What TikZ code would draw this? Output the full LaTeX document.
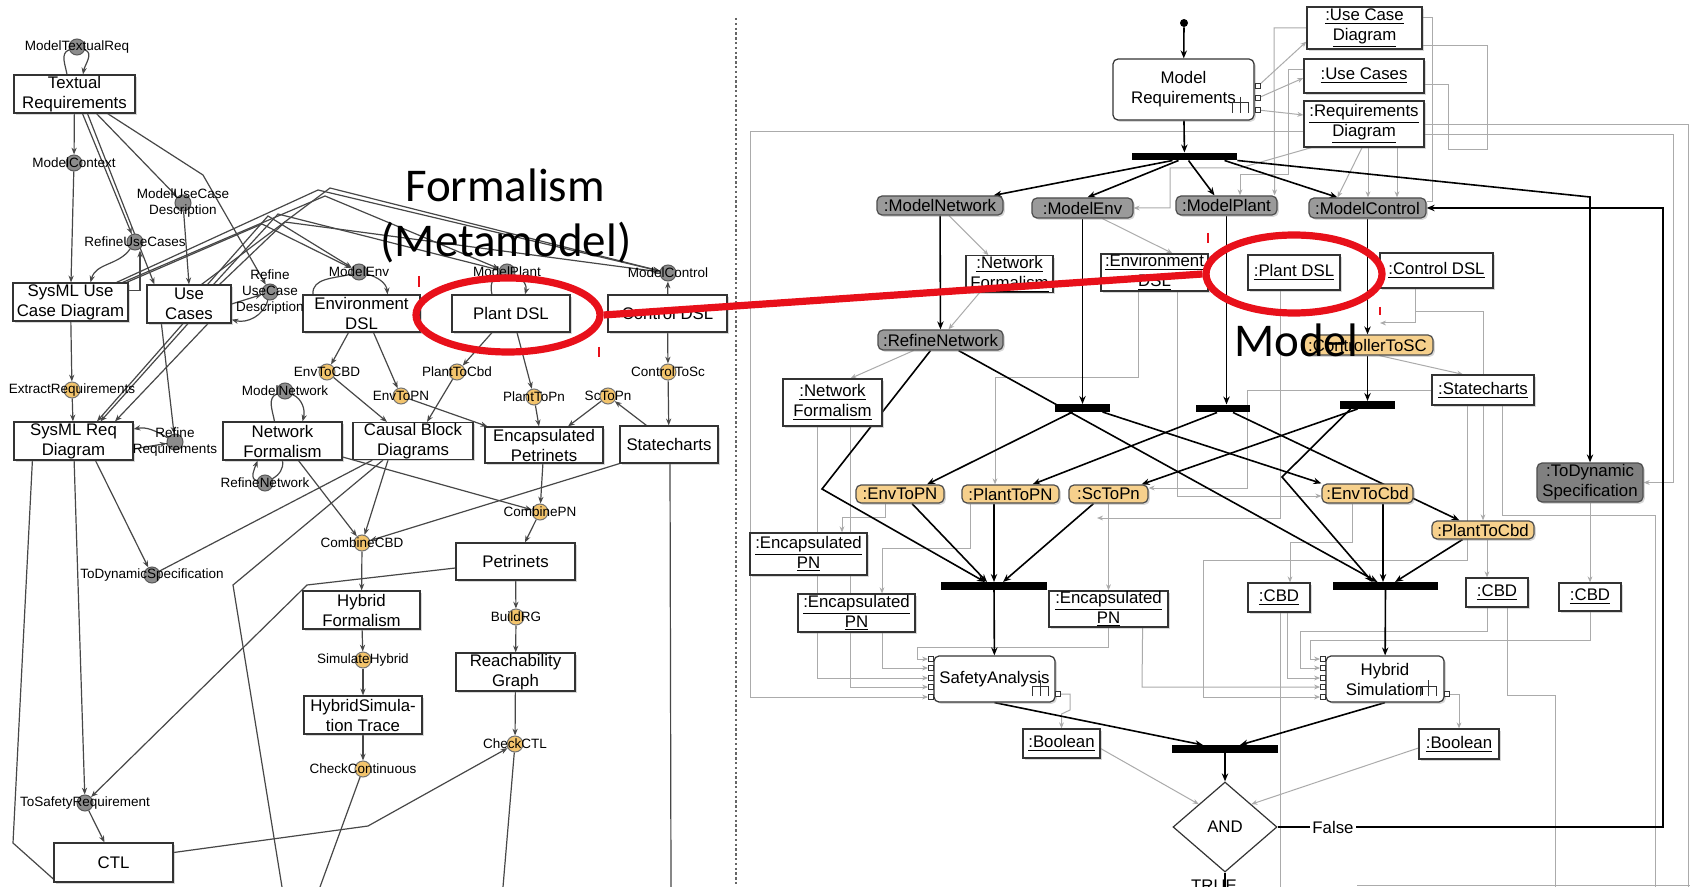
\documentclass[tikz,border=0pt]{standalone}
\usepackage{fontspec}
\setmainfont{Liberation Sans}
\newfontfamily\slidefont{Carlito}
\usetikzlibrary{arrows.meta,shapes.geometric,shadows,calc,backgrounds}
\definecolor{orng}{HTML}{F3C46C}
\definecolor{orngbox}{HTML}{F6D08C}
\definecolor{actgray}{HTML}{9A9A9A}
\definecolor{slidered}{HTML}{E8101A}
\definecolor{flow}{HTML}{ABABAB}
\newcommand{\ftgnode}[4]{\node[#1] (#2) at (#3) {};\node[lbl] (#2-t) at (#2) {#4};}
\begin{document}
\begin{tikzpicture}[x=0.5pt,y=-0.5pt,
  shd/.style={drop shadow={shadow xshift=0.9pt,shadow yshift=-0.9pt,opacity=0.3}},
  lbox/.style={rectangle,draw=black!80,line width=0.6pt,fill=white,align=center,inner sep=0pt,
    font=\fontsize{8.4}{10}\selectfont,shd},
  cg/.style={circle,draw=black!65,fill=black!45,line width=0.5pt,minimum size=8pt,inner sep=0pt},
  co/.style={circle,draw=black!55,fill=orng,line width=0.5pt,minimum size=8pt,inner sep=0pt},
  lbl/.style={inner sep=0pt,align=center,font=\fontsize{6.75}{8}\selectfont},
  ledge/.style={draw=black!72,line width=0.6pt},
  la/.style={ledge,-{Stealth[length=3.4pt,width=2.6pt]}},
  obj/.style={rectangle,draw=black!80,line width=0.6pt,fill=white,align=center,inner sep=0pt,
    font=\fontsize{8.4}{10}\selectfont,shd},
  abox/.style={obj,rounded corners=2.5pt},
  gact/.style={rectangle,rounded corners=2.5pt,draw=black!70,line width=0.6pt,fill=actgray,align=center,
    inner sep=0pt,font=\fontsize{8.4}{10}\selectfont,shd},
  oact/.style={gact,fill=orngbox},
  bar/.style={rectangle,fill=black,draw=none,minimum height=3.6pt,inner sep=0pt},
  port/.style={rectangle,draw=black!80,fill=white,line width=0.4pt,minimum size=2.5pt,inner sep=0pt},
  rk/.style={draw=black,line width=0.8pt,-{Stealth[length=4pt,width=3.2pt]}},
  rkn/.style={draw=black,line width=0.8pt},
  gf/.style={draw=flow,line width=0.5pt},
  gfa/.style={gf,-{Stealth[length=3pt,width=2.4pt]}},
  bigtxt/.style={inner sep=0pt,font=\slidefont\fontsize{23.5}{28}\selectfont},
  hilite/.style={ellipse,draw=slidered,line width=3.6pt,inner sep=0pt}
]
\useasboundingbox (0,0) rectangle (1690,887);

% ---------------- formalism transformation graph (left) ----------------
\node[lbox,minimum width=60.5pt,minimum height=19pt] (tr) at (74.5,94) {Textual\\Requirements};
\node[lbox,minimum width=57.5pt,minimum height=19pt] (sucd) at (70.5,302) {SysML Use\\Case Diagram};
\node[lbox,minimum width=42pt,minimum height=19pt] (uc) at (189,304) {Use\\Cases};
\node[lbox,minimum width=58.5pt,minimum height=18.5pt] (envdsl) at (361.5,313.5) {Environment\\DSL};
\node[lbox,minimum width=59pt,minimum height=18.5pt] (plantdsl) at (511,313.5) {Plant DSL};
\node[lbox,minimum width=59.5pt,minimum height=18.5pt] (ctrldsl) at (667.5,313.5) {Control DSL};
\node[lbox,minimum width=59.5pt,minimum height=19pt] (sreq) at (73.5,441) {SysML Req\\Diagram};
\node[lbox,minimum width=59.5pt,minimum height=19pt] (nf) at (282.5,441) {Network\\Formalism};
\node[lbox,minimum width=60pt,minimum height=18.5pt] (cbd) at (413,441) {Causal Block\\Diagrams};
\node[lbox,minimum width=59pt,minimum height=18pt] (epn) at (544,445) {Encapsulated\\Petrinets};
\node[lbox,minimum width=49pt,minimum height=18.5pt] (sc) at (669,444.5) {Statecharts};
\node[lbox,minimum width=59.5pt,minimum height=18.5pt] (pn) at (515.5,561.5) {Petrinets};
\node[lbox,minimum width=58.5pt,minimum height=19pt] (hf) at (361.5,610) {Hybrid\\Formalism};
\node[lbox,minimum width=59pt,minimum height=19pt] (hst) at (363,715) {HybridSimula-\\tion Trace};
\node[lbox,minimum width=59.5pt,minimum height=19pt] (rg) at (515.5,672) {Reachability\\Graph};
\node[lbox,minimum width=59.5pt,minimum height=19.5pt] (ctl) at (113.5,862.5) {CTL};

\ftgnode{cg}{mtr}{77,47}{ModelTextualReq}
\ftgnode{cg}{mctx}{74,163}{ModelContext}
\ftgnode{cg}{mucd}{183,203}{ModelUseCase\\Description}
\ftgnode{cg}{ruc}{135,242}{RefineUseCases}
\ftgnode{cg}{rucd}{270,292}{Refine\\UseCase\\Description}
\ftgnode{cg}{menv}{359,272}{ModelEnv}
\ftgnode{cg}{mplant}{507,272}{ModelPlant}
\ftgnode{cg}{mctrl}{668,273}{ModelControl}
\ftgnode{co}{extr}{72,390}{ExtractRequirements}
\ftgnode{cg}{rreq}{175,442}{Refine\\Requirements}
\ftgnode{cg}{mnet}{285,391}{ModelNetwork}
\ftgnode{cg}{rnet}{265,483}{RefineNetwork}
\ftgnode{co}{envcbd}{327,372}{EnvToCBD}
\ftgnode{co}{envpn}{401,396}{EnvToPN}
\ftgnode{co}{plcbd}{457,372}{PlantToCbd}
\ftgnode{co}{plpn}{534,397}{PlantToPn}
\ftgnode{co}{scpn}{608,396}{ScToPn}
\ftgnode{co}{ctsc}{668,372}{ControlToSc}
\ftgnode{co}{ccbd}{362,543}{CombineCBD}
\ftgnode{co}{cpn}{540,512}{CombinePN}
\ftgnode{cg}{tds}{152,575}{ToDynamicSpecification}
\ftgnode{co}{simh}{363,660}{SimulateHybrid}
\ftgnode{co}{brg}{516,617}{BuildRG}
\ftgnode{co}{chkc}{363,769}{CheckContinuous}
\ftgnode{co}{chkctl}{515,744}{CheckCTL}
\ftgnode{cg}{tsr}{85,803}{ToSafetyRequirement}

\coordinate (bendA) at (13,843);
\coordinate (bendB) at (307,585);
\coordinate (bendC) at (233,585);
\coordinate (bendE) at (368,826);
\coordinate (endC) at (282,887);
\coordinate (endD) at (320,887);
\coordinate (endF) at (503,887);
\coordinate (endG) at (671,887);

% ---------------- process model (right) ----------------
\node[circle,fill=black,inner sep=0pt,minimum size=4pt] (init) at (1184,23) {};
\node[abox,minimum width=70.5pt,minimum height=30.5pt] (mreq) at (1183.5,89.5) {Model\\Requirements};
\node[bar,minimum width=52.5pt] (fork1) at (1184.5,156.5) {};
\node[gact,minimum width=63pt,minimum height=9.5pt] (mnetR) at (940,205.5) {:ModelNetwork};
\node[gact,minimum width=50.5pt,minimum height=10pt] (menvR) at (1082.5,208) {:ModelEnv};
\node[gact,minimum width=50.5pt,minimum height=9.5pt] (mplantR) at (1226.5,205.5) {:ModelPlant};
\node[gact,minimum width=58.5pt,minimum height=10pt] (mctrlR) at (1367.5,208) {:ModelControl};
\node[obj,minimum width=57.5pt,minimum height=21pt] (ucdR) at (1364.5,28) {\underline{:Use Case}\\\underline{Diagram}};
\node[obj,minimum width=60pt,minimum height=17pt] (ucR) at (1364,76) {\underline{:Use Cases}};
\node[obj,minimum width=60pt,minimum height=23pt] (rdR) at (1364,124) {\underline{:Requirements}\\\underline{Diagram}};
\node[obj,minimum width=43.5pt,minimum height=18pt] (nfR) at (1009.5,274) {\underline{:Network}\\\underline{Formalism}};
\node[obj,minimum width=53.5pt,minimum height=18.5pt] (edR) at (1154.5,272.5) {\underline{:Environment}\\\underline{DSL}};
\node[obj,minimum width=46pt,minimum height=17.5pt] (pdR) at (1294,272.5) {\underline{:Plant DSL}};
\node[obj,minimum width=56.5pt,minimum height=17.5pt] (cdR) at (1436.5,270.5) {\underline{:Control DSL}};
\node[gact,minimum width=62.5pt,minimum height=10pt] (rnR) at (940.5,340) {:RefineNetwork};
\node[oact,minimum width=65.5pt,minimum height=10pt] (csc) at (1367.5,345) {:ControllerToSC};
\node[obj,minimum width=49.5pt,minimum height=23.5pt] (nf2R) at (832.5,402.5) {\underline{:Network}\\\underline{Formalism}};
\node[obj,minimum width=51pt,minimum height=15pt] (scR) at (1483,390) {\underline{:Statecharts}};
\node[bar,minimum width=27.5pt] (bar2) at (1082.5,408) {};
\node[bar,minimum width=27pt] (bar3) at (1223,408.5) {};
\node[bar,minimum width=27.5pt] (bar4) at (1367.5,405) {};
\node[gact,fill=black!50,minimum width=53pt,minimum height=19.5pt] (tdR) at (1590,482.5) {:ToDynamic\\Specification};
\node[oact,minimum width=44pt,minimum height=9pt] (e2pn) at (900,494) {:EnvToPN};
\node[oact,minimum width=48.5pt,minimum height=9pt] (p2pn) at (1010.5,494) {:PlantToPN};
\node[oact,minimum width=39.5pt,minimum height=9pt] (s2pn) at (1108.5,494) {:ScToPn};
\node[oact,minimum width=45.5pt,minimum height=9.5pt] (e2cbd) at (1367.5,493.5) {:EnvToCbd};
\node[oact,minimum width=51pt,minimum height=9pt] (p2cbd) at (1483,530) {:PlantToCbd};
\node[obj,minimum width=58.5pt,minimum height=21pt] (ep1) at (808.5,554) {\underline{:Encapsulated}\\\underline{PN}};
\node[obj,minimum width=58.5pt,minimum height=19pt] (ep2) at (856.5,613) {\underline{:Encapsulated}\\\underline{PN}};
\node[obj,minimum width=59.5pt,minimum height=18pt] (ep3) at (1108.5,609) {\underline{:Encapsulated}\\\underline{PN}};
\node[bar,minimum width=53pt] (bar5) at (994,586) {};
\node[bar,minimum width=52.5pt] (bar7) at (1385.5,586) {};
\node[obj,minimum width=31pt,minimum height=14.5pt] (cbd1) at (1279,597.5) {\underline{:CBD}};
\node[obj,minimum width=31pt,minimum height=14.5pt] (cbd2) at (1497,592.5) {\underline{:CBD}};
\node[obj,minimum width=31pt,minimum height=14pt] (cbd3) at (1590,597) {\underline{:CBD}};
\node[abox,minimum width=60.5pt,minimum height=23pt] (sa) at (994.5,679) {SafetyAnalysis};
\node[abox,minimum width=59pt,minimum height=23pt] (hs) at (1385,679) {Hybrid\\Simulation};
\node[obj,minimum width=38.5pt,minimum height=14.5pt] (bool1) at (1061.5,743.5) {\underline{:Boolean}};
\node[obj,minimum width=40pt,minimum height=15pt] (bool2) at (1459,744) {\underline{:Boolean}};
\node[bar,minimum width=53pt] (bar8) at (1225,749) {};
\node[diamond,draw=black!80,fill=white,line width=0.6pt,inner sep=0pt,minimum width=52pt,minimum height=45pt,
  font=\fontsize{8.4}{10}\selectfont] (and) at (1225,827) {AND};
\node[inner sep=1pt,fill=white,font=\fontsize{8.4}{10}\selectfont] (false) at (1333,827) {False};
\node[anchor=north,inner sep=0pt,font=\fontsize{8.4}{10}\selectfont] (truel) at (1214,880) {TRUE};

% pins
\node[port] (mP1) at (1258,86) {};
\node[port] (mP2) at (1258,98) {};
\node[port] (mP3) at (1258,110) {};
\foreach \i/\yy in {1/659,2/668,3/678,4/687,5/697}{
  \node[port] (saP\i) at (931,\yy) {};
  \node[port] (hsP\i) at (1323,\yy) {};
}
\node[port] (saO) at (1058,694) {};
\node[port] (hsO) at (1447,694) {};

% call-behaviour rakes
\foreach \rx/\ry in {1240/103, 1040/686, 1428/686}{
  \draw[black!80,line width=0.5pt] (\rx-8,\ry+10) -- (\rx-8,\ry) -- (\rx+8,\ry) -- (\rx+8,\ry+10)
    (\rx,\ry-6) -- (\rx,\ry+10);
}

\begin{pgfonlayer}{background}
\fill[white] (0,0) rectangle (1690,887);
% separator
\draw[black!60,line width=0.6pt,dash pattern=on 1.2pt off 1.2pt] (736,18) -- (736,887);

% ----- left: edges -----
\draw[ledge] (mtr) to[out=200,in=100] ($(tr.north)+(-7.5,0)$);
\draw[la] (mtr) to[out=-20,in=80] ($(tr.north)+(8.5,0)$);
\draw[la] (tr) -- (mctx);
\draw[la] (mctx) -- (sucd);
\draw[la] ($(tr.south)+(8,0)$) -- (ruc);
\draw[la] ($(tr.south)+(13,0)$) -- ($(uc.north west)+(8,0)$);
\draw[la] ($(tr.south)+(22,0)$) -- (mucd);
\draw[la] ($(tr.south east)+(-28,0)$) -- (203,175) -- (rucd);
\draw[la] (mucd) -- (uc.north);
\draw[la] (ruc) to[out=235,in=75] ($(sucd.north)+(20,0)$);
\draw[la] ($(sucd.north east)+(0,8)$) -| ($(ruc.south)+(5,0)$);
\draw[la] (uc.east) -- (rucd);
\draw[la] (rucd) to[out=255,in=-15] ($(uc.south east)+(0,-4)$);
% bundle towards the DSL modelling activities
\draw[la] ($(sucd.north east)+(-12,0)$) -- (318,190) -- (mctrl);
\draw[la] ($(sucd.north east)+(-6,0)$) -- (325,196) -- (mplant);
\draw[la] ($(sucd.north east)+(-2,0)$) -- (262,224) -- (menv);
\draw[la] ($(uc.north east)+(-30,0)$) -- (330,188) -- (mctrl);
\draw[la] ($(uc.north east)+(-24,0)$) -- (268,216) -- (menv);
\draw[la] ($(uc.north east)+(-18,0)$) -- (278,214) -- (mplant);
\draw[la] ($(uc.north east)+(-12,0)$) -- (285,222) -- (mctrl);

\draw[la] (sucd) -- (extr);
\draw[la] (extr) -- (sreq);
\draw[la] ($(uc.south west)+(15,0)$) -- (rreq);
\draw[la] ($(uc.south)+(-6,0)$) -- ($(sreq.north)+(23.5,0)$);
\draw[la] ($(uc.south)+(-1,0)$) -- ($(sreq.north)+(27,0)$);
\draw[la] ($(uc.south)+(19,0)$) -- ($(sreq.north)+(41.5,0)$);
\draw[la] (rreq) to[out=150,in=10] ($(sreq.east)+(0,-12)$);
\draw[la] ($(sreq.east)+(0,8)$) -- (rreq);
\draw[la] (sreq) -- (tsr);
\draw[la] ($(sreq.south)+(22,0)$) -- (tds);
\draw[ledge] ($(sreq.south west)+(19,0)$) -- (bendA) -- ($(ctl.south west)+(4,0)$);
\draw[ledge] (tds) -- ($(cbd.south west)+(20,0)$);
\draw[la] (tsr) -- ($(ctl.north)+(-9,0)$);
\draw[la] ($(pn.west)+(0,6.5)$) -- (bendB) -- (tsr);
\draw[ledge] ($(cbd.south)+(-30,0)$) -- (bendC) -- (endC);
\draw[ledge] (chkc) -- (endD);
\draw[la] ($(ctl.east)+(0,-10)$) -- (bendE) -- (chkctl);
\draw[ledge] (chkctl) -- (endF);
\draw[ledge] ($(sc.south)+(1,0)$) -- (endG);
\draw[la] (sc.south west) -- (ccbd);
\draw[la] ($(nf.east)+(0,16)$) -- (cpn);

\draw[ledge] (menv) to[out=195,in=95] ($(envdsl.north)+(-48.5,0)$);
\draw[la] (menv) to[out=-15,in=95] ($(envdsl.north)+(26,0)$);
\draw[ledge] (mplant) to[out=200,in=105] ($(plantdsl.north)+(-19,0)$);
\draw[la] (mplant) to[out=-20,in=75] ($(plantdsl.north)+(14,0)$);
\draw[la] ($(envdsl.south)+(-13,0)$) -- (envcbd);
\draw[la] ($(envdsl.south)+(12,0)$) -- (envpn);
\draw[la] (envcbd) -- ($(cbd.north)+(-26,0)$);
\draw[la] (envpn) -- ($(epn.north west)+(3,0)$);
\draw[la] ($(plantdsl.south)+(-19,0)$) -- (plcbd);
\draw[la] (plcbd) -- ($(cbd.north)+(14,0)$);
\draw[la] ($(plantdsl.south)+(6,0)$) -- (plpn);
\draw[la] (plpn) -- ($(epn.north)+(-5,0)$);
\draw[la] (scpn) -- ($(epn.north)+(24,0)$);
\draw[la] ($(sc.north west)+(27,0)$) -- (scpn);
\draw[la] (ctrldsl) -- (ctsc);
\draw[la] (ctsc) -- (sc);
\draw[la] (ctrldsl) -- (mctrl);
\draw[ledge] (mnet) to[out=200,in=100] ($(nf.north)+(-8,0)$);
\draw[la] (mnet) to[out=-25,in=75] ($(nf.north)+(20,0)$);
\draw[la] (rnet) to[out=165,in=250] ($(nf.south)+(-25,0)$);
\draw[ledge] (nf.south) to[out=-80,in=30] (rnet);
\draw[la] ($(nf.south)+(16,0)$) -- (ccbd);
\draw[la] ($(cbd.south)+(-25,0)$) -- (ccbd);
\draw[la] (ccbd) -- (hf);
\draw[la] (hf) -- (simh);
\draw[la] (simh) -- (hst);
\draw[la] (hst) -- (chkc);
\draw[la] (epn) -- (cpn);
\draw[la] (cpn) -- (pn);
\draw[la] (pn) -- (brg);
\draw[la] (brg) -- (rg);
\draw[la] (rg) -- (chkctl);

% ----- right: object flows -----
\draw[gfa] ($(rdR.west)+(0,8)$) -- (750,132) -- (750,697) -- (saP5);
\draw[gf] ($(rdR.east)+(0,1)$) -- (1688,125) -- (1688,887);
\draw[gfa] ($(rdR.east)+(0,11)$) -- (1673,135) -- (1673,482.5) -- (tdR.east);
\draw[gfa] (mP1) -- ($(ucdR.south west)+(0,-8)$);
\draw[gfa] (mP2) -- ($(ucR.west)+(0,2)$);
\draw[gfa] (mP3) -- ($(rdR.west)+(0,-9)$);
\draw[gfa] (ucdR.west) -- (1274,28) -- ($(mplantR.north east)+(-3,0)$);
\draw[gfa] ($(ucR.west)+(0,-6)$) -- (1288,70) -- (1288,175) -- (1240,175) -- ($(mplantR.north)+(13.5,0)$);
\draw[gfa] ($(rdR.south)+(4,0)$) -- ($(mctrlR.north)+(0.5,0)$);
\draw[gfa] ($(rdR.south)+(33,0)$) -- ($(mctrlR.north)+(29.5,0)$);
\draw[gfa] ($(rdR.south)+(-2,0)$) -- ($(mctrlR.north)+(-30,0)$);
\draw[gf] ($(ucdR.east)+(0,-10)$) -- (1432,18) -- (1432,202) -- ($(mctrlR.east)+(0,-6)$);
\draw[gf] ($(ucdR.east)+(0,18)$) -- (1487,46) -- (1487,150) -- (1448,150) -- (1448,85) -- ($(ucR.east)+(0,9)$);
\draw[gfa] ($(rdR.south west)+(8,0)$) -- (1240,168) -- (1170,168) -- (1170,208) -- (menvR.east);
\draw[gfa] ($(mnetR.south)+(9,0)$) -- ($(nfR.north)+(-21,0)$);
\draw[gfa] ($(nfR.south)+(-30,0)$) -- ($(rnR.north)+(8,0)$);
\draw[gfa] ($(menvR.south)+(20,0)$) -- ($(edR.north)+(18,0)$);
\draw[gfa] ($(rnR.south)+(-27,0)$) -- ($(nf2R.north)+(18,0)$);
\draw[gfa] ($(csc.south)+(12,0)$) -- ($(scR.north)+(-20,0)$);
\draw[gfa] ($(cdR.south)+(-21,0)$) -- (1415.5,323) -- (1380,323);
\draw[gfa] ($(cdR.south)+(-21,0)$) -- (1415.5,312) -- (1483,312) -- (p2cbd.north);
\draw[gfa] ($(edR.south)+(-16,0)$) -- (1138.5,377) -- (995,377) -- ($(p2pn.north)+(-15.5,0)$);
\draw[gfa] ($(edR.south)+(22.5,0)$) -- (1177,496) -- ($(e2cbd.west)+(0,2.5)$);
\draw[gfa] ($(pdR.south)+(-14,0)$) -- (1280,518) -- (1097,518);
\draw[gfa] (scR.west) -- (1247,390) -- (1247,488) -- ($(s2pn.east)+(0,-6)$);
\draw[gfa] ($(e2pn.south)+(-15,0)$) -- (885,517) -- (842,517) -- ($(ep1.north)+(33.5,0)$);
\draw[gfa] ($(p2pn.south)+(-40.5,0)$) -- (970,548) -- (882,548) -- ($(ep2.north)+(25.5,0)$);
\draw[gfa] (s2pn.south) -- (ep3.north);
\draw[gfa] ($(nf2R.south)+(-15.5,0)$) -- (817,678) -- (saP3);
\draw[gfa] ($(nf2R.south)+(17.5,0)$) -- (850,687) -- (saP4);
\draw[gfa] ($(ep2.south)+(25.5,0)$) -- (882,668) -- (saP2);
\draw[gfa] (ep3.south) -- (1108.5,647) -- (917,647) -- (917,659) -- (saP1);
\draw[gfa] ($(ep3.south east)+(-26,0)$) -- (1142,687) -- (hsP4);
\draw[gfa] ($(scR.south)+(-16,0)$) -- (1467,560) -- (1203,560) -- (1203,697) -- (hsP5);
\draw[gfa] ($(cbd1.south)+(8,0)$) -- (1287,678) -- (hsP3);
\draw[gf] ($(cbd1.south)+(1,0)$) -- (1280,887);
\draw[gfa] ($(cbd2.south)+(-10,0)$) -- (1487,631) -- (1300,631) -- (1300,668) -- (hsP2);
\draw[gfa] (cbd3.south) -- (1590,640) -- (1310,640) -- (1310,659) -- (hsP1);
\draw[gf] ($(cbd2.south)+(10,0)$) -- (1507,695) -- (1555,695) -- (1555,887);
\draw[gfa] ($(e2cbd.south)+(-15.5,0)$) -- (1352,542) -- (1290,542) -- ($(cbd1.north)+(11,0)$);
\draw[gfa] ($(p2cbd.south)+(4,0)$) -- ($(cbd2.north)+(-10,0)$);
\draw[gfa] (tdR.south) -- (cbd3.north);
\draw[gf] ($(scR.south)+(19,0)$) -- (1502,515) -- (1655,515) -- (1655,887);
\draw[gfa] (saO) -- (1070,694) -- (1070,710) -- (1061.5,714) -- (bool1.north);
\draw[gfa] (hsO) -- (1459,694) -- (bool2.north);
\draw[gfa] ($(bool1.east)+(0,5)$) -- (and.north west);
\draw[gfa] ($(bool2.west)+(0,4)$) -- (and.north east);
\draw[gf] (1357,885) -- (1690,885);

% ----- right: control flows -----
\draw[rk] (init) -- (mreq);
\draw[rk] (mreq) -- (fork1);
\draw[rk] ($(fork1.south)+(-12,0)$) -- ($(mnetR.north east)+(-10,0)$);
\draw[rk] ($(fork1.south)+(-6,0)$) -- ($(menvR.north)+(5,0)$);
\draw[rk] ($(fork1.south)+(4,0)$) -- ($(mplantR.north)+(-12,0)$);
\draw[rk] ($(fork1.south)+(40,0)$) -- ($(mctrlR.north)+(-30,0)$);
\draw[rk] (fork1.south east) -- (1590,197) -- (tdR.north);
\draw[rk] (mnetR) -- (rnR);
\draw[rk] (menvR) -- (bar2);
\draw[rk] (mplantR.south) -- (mplantR.south |- bar3.north);
\draw[rk] (mctrlR) -- (csc);
\draw[rk] (csc) -- (bar4);
\draw[rk] ($(rnR.south east)+(-45,0)$) -- ($(bar7.north)+(-8,0)$);
\draw[rk] ($(rnR.south)+(-10,0)$) -- (822,489) -- ($(bar5.north)+(-9,0)$);
\draw[rk] ($(bar2.south)+(-10,0)$) -- ($(e2pn.north)+(27,0)$);
\draw[rk] ($(bar2.south)+(20,0)$) -- (e2cbd.north west);
\draw[rk] ($(bar3.south)+(-6,0)$) -- ($(p2pn.north)+(22,0)$);
\draw[rk] ($(bar3.south)+(10,0)$) -- ($(p2cbd.north west)+(28,0)$);
\draw[rk] ($(bar4.south)+(-10,0)$) -- ($(s2pn.north)+(33,0)$);
\draw[rk] ($(bar4.south)+(-17,0)$) -- (1282,477) -- ($(bar7.north)+(-13,0)$);
\draw[rk] ($(e2pn.south)+(12,0)$) -- ($(bar5.north)+(-7,0)$);
\draw[rk] ($(p2pn.south)+(-16.5,0)$) -- (bar5.north);
\draw[rk] ($(s2pn.south)+(-15,0)$) -- ($(bar5.north)+(9,0)$);
\draw[rk] ($(e2cbd.south)+(15.5,0)$) -- ($(bar7.north)+(-2.5,0)$);
\draw[rk] ($(p2cbd.south west)+(31,0)$) -- ($(bar7.north)+(9.5,0)$);
\draw[rk] (bar5) -- (sa);
\draw[rk] (bar7) -- (hs);
\draw[rk] (sa.south) -- ($(bar8.north)+(-22,0)$);
\draw[rk] (hs.south) -- ($(bar8.north)+(15,0)$);
\draw[rk] (bar8) -- (and);
\draw[rkn] (and.east) -- (false.west);
\draw[rk] (false.east) -- (1663,827) -- (1663,208) -- (mctrlR.east);
\draw[rkn] (and.south) -- (1225,887);
\end{pgfonlayer}

% ---------------- annotations ----------------
\node[bigtxt,anchor=base] (ttlA) at (505,202) {Formalism};
\node[bigtxt,anchor=base] (ttlB) at (506,257) {(Metamodel)};
\node[bigtxt,anchor=base] (ttlC) at (1296,357) {Model};

\draw[slidered,line width=1pt] (419,276) -- (419,287) (599,347) -- (599,357)
  (1208,233) -- (1208,243) (1380,307) -- (1380,315);

\node[hilite,minimum width=92pt,minimum height=37pt] (hlL) at (508,315) {};
\node[hilite,minimum width=88pt,minimum height=39pt] (hlR) at (1294,274) {};
\draw[slidered,line width=3.6pt] (hlL.east) -- (hlR.west);
\end{tikzpicture}
\end{document}
